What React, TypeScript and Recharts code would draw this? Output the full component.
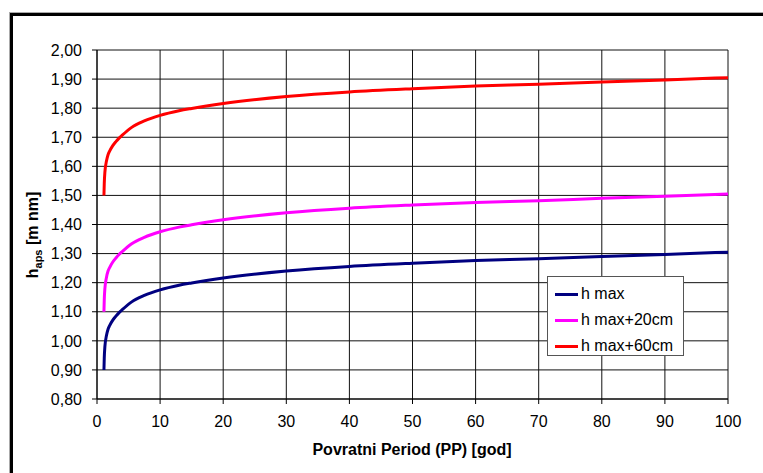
import React from 'react';
import {
  LineChart,
  Line,
  XAxis,
  YAxis,
  CartesianGrid,
  Legend,
} from 'recharts';

// povratni period (godine)
const pp = [
  1.1, 1.15, 1.25, 1.5, 1.75, 2, 2.5, 3, 3.5, 4, 5.5, 7.5, 10, 13, 15, 20, 30, 40, 50, 60, 70, 80,
  90, 100,
];

const hMax = [
  0.9, 0.94, 0.98, 1.018, 1.04, 1.052, 1.071, 1.085, 1.097, 1.107, 1.134, 1.156, 1.175, 1.191,
  1.199, 1.216, 1.24, 1.256, 1.267, 1.276, 1.282, 1.29, 1.297, 1.305,
];
const hMax20 = [
  1.1, 1.14, 1.18, 1.218, 1.24, 1.252, 1.271, 1.285, 1.297, 1.307, 1.334, 1.356, 1.375, 1.391,
  1.399, 1.416, 1.44, 1.456, 1.467, 1.476, 1.482, 1.49, 1.497, 1.505,
];
const hMax60 = [
  1.5, 1.54, 1.58, 1.618, 1.64, 1.652, 1.671, 1.685, 1.697, 1.707, 1.734, 1.756, 1.775, 1.791,
  1.799, 1.816, 1.84, 1.856, 1.867, 1.876, 1.882, 1.89, 1.897, 1.905,
];

const xTicks = [0, 10, 20, 30, 40, 50, 60, 70, 80, 90, 100];
const yTicks = [0.8, 0.9, 1.0, 1.1, 1.2, 1.3, 1.4, 1.5, 1.6, 1.7, 1.8, 1.9, 2.0];

const series = [
  { key: 'hMax', name: 'h max', color: '#000080' },
  { key: 'hMax20', name: 'h max+20cm', color: '#ff00ff' },
  { key: 'hMax60', name: 'h max+60cm', color: '#ff0000' },
];

const data = pp.map((x, i) => ({ x, hMax: hMax[i], hMax20: hMax20[i], hMax60: hMax60[i] }));

const FONT = '"Liberation Sans", Arial, sans-serif';

const fmt = (v: number) => v.toFixed(2).replace('.', ',');

const LegendBox = () => (
  <div
    style={{
      width: 137,
      height: 80,
      boxSizing: 'border-box',
      border: '1px solid #555',
      background: '#fff',
      padding: '4px 0 0 7px',
      fontFamily: FONT,
      fontSize: 16,
      color: '#000',
    }}
  >
    {series.map((s) => (
      <div key={s.key} style={{ display: 'flex', alignItems: 'center', height: 26 }}>
        <span style={{ display: 'inline-block', width: 23, height: 3, background: s.color, marginRight: 3 }} />
        <span>{s.name}</span>
      </div>
    ))}
  </div>
);

export default function App() {
  return (
    <div style={{ position: 'absolute', left: 0, top: 0, width: 763, height: 473, background: '#fff', overflow: 'hidden' }}>
      {/* okvir */}
      <div
        style={{
          position: 'absolute',
          left: 10,
          top: 13,
          width: 800,
          height: 500,
          borderLeft: '3px solid #000',
          borderTop: '3px solid #000',
          boxShadow: '-1px -1px 0 #aaa',
        }}
      />
      <div style={{ position: 'absolute', left: 0, top: 0 }}>
        <LineChart
          width={763}
          height={473}
          data={data}
          margin={{ top: 50, right: 35, bottom: 24, left: 37 }}
          style={{ fontFamily: FONT }}
        >
          <CartesianGrid stroke="#111" strokeWidth={1} />
          <XAxis
            dataKey="x"
            type="number"
            domain={[0, 100]}
            ticks={xTicks}
            height={50}
            stroke="#000"
            tickSize={5}
            tickMargin={12}
            tick={{ fill: '#000', fontSize: 16 }}
            label={{
              content: () => (
                <text x={412} y={455} textAnchor="middle" fontWeight="bold" fontSize={16} fill="#000">
                  Povratni Period (PP) [god]
                </text>
              ),
            }}
          />
          <YAxis
            type="number"
            domain={[0.8, 2.0]}
            ticks={yTicks}
            width={60}
            stroke="#000"
            tickSize={5}
            tickMargin={10}
            tickFormatter={fmt}
            tick={{ fill: '#000', fontSize: 16 }}
            label={{
              content: () => (
                <text
                  x={38}
                  y={235}
                  transform="rotate(-90, 38, 235)"
                  textAnchor="middle"
                  fontWeight="bold"
                  fontSize={16}
                  fill="#000"
                >
                  h
                  <tspan dy={4} fontSize={11}>aps</tspan>
                  <tspan dy={-4} fontSize={16}> [m nm]</tspan>
                </text>
              ),
            }}
          />
          <Legend
            layout="vertical"
            align="center"
            verticalAlign="middle"
            wrapperStyle={{ left: 547, top: 276, width: 137 }}
            content={() => <LegendBox />}
          />
          {series.map((s) => (
            <Line
              key={s.key}
              type="monotone"
              dataKey={s.key}
              name={s.name}
              stroke={s.color}
              strokeWidth={3}
              dot={false}
              isAnimationActive={false}
            />
          ))}
        </LineChart>
      </div>
    </div>
  );
}
